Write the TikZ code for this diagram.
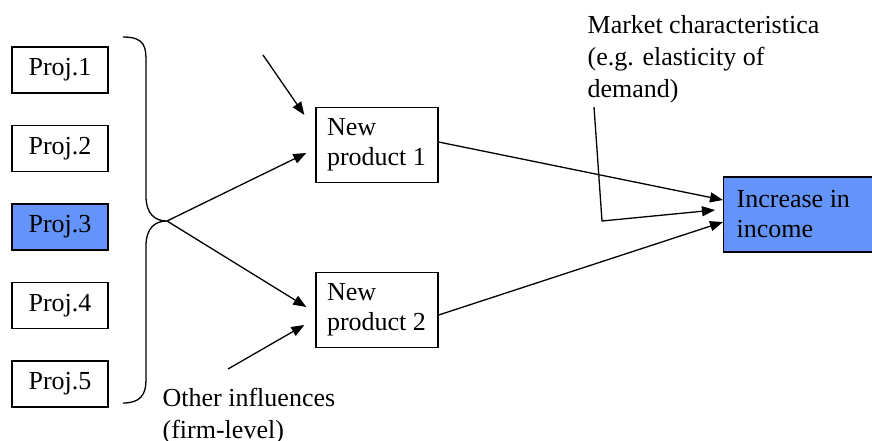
\documentclass[tikz,border=0pt]{standalone}
\usepackage{fontspec}
\setmainfont{Liberation Serif}
\usepackage{tikz}
\usetikzlibrary{arrows.meta,positioning,calc}
\usepackage{xcolor}
\definecolor{projblue}{RGB}{100,148,250}

\begin{document}
\begin{tikzpicture}[x=1pt,y=-1pt,line width=1.3pt,node distance=78.5pt,on grid,
   box/.style={draw,rectangle,minimum width=96pt,minimum height=46pt,font=\fontsize{26}{30}\selectfont},
   prod/.style={draw,rectangle,text width=100pt,align=flush left,inner sep=11pt,minimum height=74pt,font=\fontsize{26}{30}\selectfont},
   note/.style={align=flush left,inner sep=0pt,font=\fontsize{26}{32}\selectfont},
   arr/.style={-{Triangle[length=13pt,width=10pt]}}]
   \useasboundingbox (0,0) rectangle (872,440);

   \node[box] (p1) at (60,70) {Proj.1};
   \node[box] (p2) [below=of p1] {Proj.2};
   \node[box,fill=projblue] (p3) [below=of p2] {Proj.3};
   \node[box] (p4) [below=of p3] {Proj.4};
   \node[box] (p5) [below=of p4] {Proj.5};

   \node[prod] (np1) at (377,145) {New\\product 1};
   \node[prod] (np2) at (377,310) {New\\product 2};
   \node[prod,fill=projblue,anchor=west,text width=130pt,inner sep=13pt,minimum height=75pt] (inc) at (723,214.5) {Increase in\\income};

   % base of a note is the base of its last line
   \node[note,anchor=base west] (mkt) at (587,97) {Market characteristica\\(e.g. elasticity of\\demand)};
   \node[note,anchor=base west] (oth) at (162,438) {Other influences\\(firm-level)};

   % brace round the projects
   \coordinate (tip) at (167,221);
   \draw (123,37) .. controls (146,37) and (146,48) .. (146,63) -- (146,196)
      .. controls (146,214) and (155,221) .. (tip)
      .. controls (155,221) and (146,228) .. (146,246) -- (146,380)
      .. controls (146,395) and (140,403) .. (123,403);

   \coordinate (inA) at (263,55);
   \coordinate (inB) at (228,369);
   \coordinate (mk) at (594,107);
   \coordinate (mkb) at (602,221);

   \draw[arr] (tip) -- ([xshift=-9pt,yshift=-8pt]np1.west);
   \draw[arr] (tip) -- ([xshift=-9pt,yshift=3pt]np2.west);
   \draw[arr] (inA) -- ([xshift=-11pt,yshift=30pt]np1.west);
   \draw[arr] (inB) -- ([xshift=-11pt,yshift=-15pt]np2.west);
   \draw[arr] ([yshift=3pt]np1.east) -- ([yshift=14.5pt]inc.west);
   \draw[arr] ([yshift=-5pt]np2.east) -- ([yshift=-7.5pt]inc.west);
   \draw[arr] (mk) -- (mkb) -- ([xshift=-8pt,yshift=4.5pt]inc.west);
\end{tikzpicture}
\end{document}
